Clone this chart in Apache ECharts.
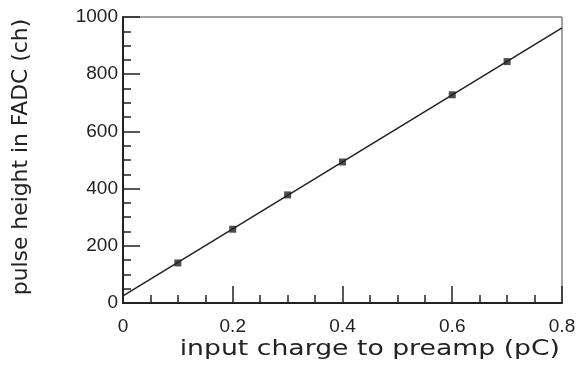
<!DOCTYPE html>
<html><head><meta charset="utf-8">
<script src="https://cdn.jsdelivr.net/npm/echarts@6/dist/echarts.min.js"></script>
<style>html,body{margin:0;padding:0;background:#fff}#c{width:585px;height:365px}</style>
</head><body><div id="c"></div>
<script>
const xTitle = 'input charge to preamp (pC)';
const yTitle = 'pulse height in FADC (ch)';
const chargeX = [0.1, 0.2, 0.3, 0.4, 0.6, 0.7];
const heightY = [140, 258, 378, 493, 728, 844];
const fitX = [0, 0.8];
const fitY = [25, 962];

const chart = echarts.init(document.getElementById('c'), null, {renderer: 'canvas'});
const tickFont = {fontFamily: 'Liberation Sans', fontSize: 19, color: '#222'};
chart.setOption({
  animation: false,
  grid: {left: 123, top: 17, right: 23, bottom: 62, show: true, borderColor: '#444', borderWidth: 1},
  xAxis: {
    type: 'value', min: 0, max: 0.8, interval: 0.2,
    axisLine: {lineStyle: {color: '#222', width: 2}},
    axisTick: {inside: true, length: 17, lineStyle: {color: '#222', width: 1.5}},
    minorTick: {show: true, splitNumber: 4, length: 8, lineStyle: {color: '#222', width: 1.5}},
    splitLine: {show: false},
    axisLabel: Object.assign({margin: 14, formatter: v => String(+v.toFixed(1))}, tickFont)
  },
  yAxis: {
    type: 'value', min: 0, max: 1000, interval: 200,
    axisLine: {show: true, lineStyle: {color: '#222', width: 2}},
    axisTick: {show: true, inside: true, length: 17, lineStyle: {color: '#222', width: 1.5}},
    minorTick: {show: true, splitNumber: 4, length: 8, lineStyle: {color: '#222', width: 1.5}},
    splitLine: {show: false},
    axisLabel: Object.assign({margin: 5, formatter: v => String(v)}, tickFont)
  },
  graphic: [
    {type: 'text', x: 560, y: 350, scaleX: 1.27, style: {text: xTitle, font: '21px "DejaVu Sans"', fill: '#222', align: 'right', verticalAlign: 'middle'}},
    {type: 'text', x: 22, y: 157, rotation: Math.PI / 2, scaleX: 1.04, style: {text: yTitle, font: '21px "DejaVu Sans"', fill: '#222', align: 'center', verticalAlign: 'middle'}}
  ],
  series: [
    {type: 'line', data: fitX.map((x, i) => [x, fitY[i]]), symbol: 'none', lineStyle: {color: '#222', width: 1.5}, silent: true},
    {type: 'scatter', data: chargeX.map((x, i) => [x, heightY[i]]), symbol: 'rect', symbolSize: 7, itemStyle: {color: '#222'}}
  ]
});
</script></body></html>
